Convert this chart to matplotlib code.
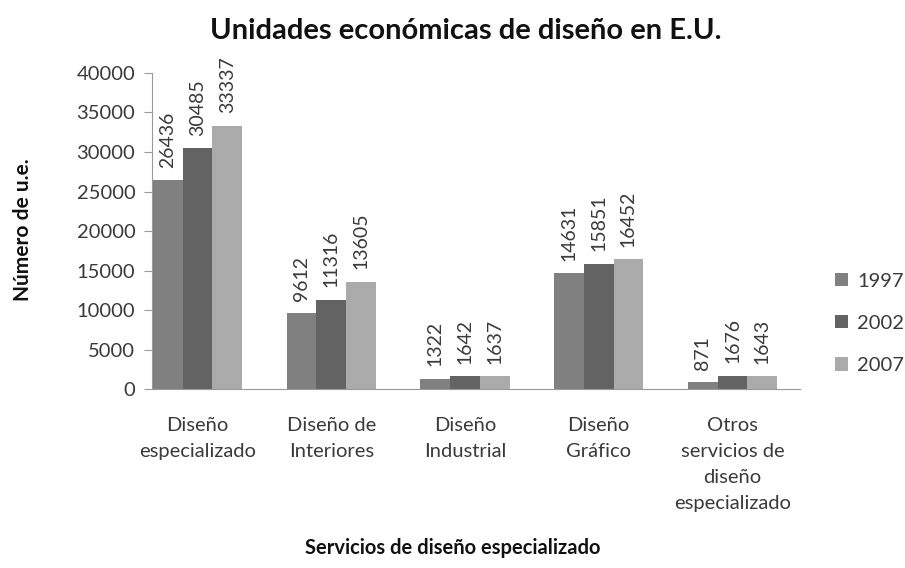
import matplotlib
matplotlib.use("Agg")
import matplotlib.pyplot as plt
import numpy as np

plt.rcParams["font.family"] = ["Lato", "DejaVu Sans"]

CATEGORIES = ["Diseño\nespecializado", "Diseño de\nInteriores", "Diseño\nIndustrial",
              "Diseño\nGráfico", "Otros\nservicios de\ndiseño\nespecializado"]
YEARS = ["1997", "2002", "2007"]
V1997 = [26436, 9612, 1322, 14631, 871]
V2002 = [30485, 11316, 1642, 15851, 1676]
V2007 = [33337, 13605, 1637, 16452, 1643]
COLORS = ["#808080", "#636363", "#ababab"]
TEXT = "#3a3a3a"

fig = plt.figure(figsize=(9.05, 5.68), dpi=100)
ax = fig.add_axes([0.168, 0.315, 0.716, 0.5565])

x = np.arange(len(CATEGORIES))
w = 0.222
for i, (vals, yr, c) in enumerate(zip([V1997, V2002, V2007], YEARS, COLORS)):
    bars = ax.bar(x + (i - 1) * w, vals, w, color=c, label=yr)
    for b, v in zip(bars, vals):
        ax.annotate(str(v), (b.get_x() + b.get_width() / 2, v), xytext=(0, 9),
                    textcoords="offset points", rotation=90, ha="center", va="bottom",
                    fontsize=14, color=TEXT)

ax.set_xlim(-0.34, 4.505)
ax.set_ylim(0, 40000)
ax.set_yticks(np.arange(0, 40001, 5000))
ax.set_xticks(x)
ax.set_xticklabels(CATEGORIES, fontsize=14.5, color=TEXT, linespacing=1.65, va="top")
ax.tick_params(axis="x", length=0, pad=20)
ax.tick_params(axis="y", labelsize=14.5, labelcolor=TEXT, color="#999999", length=6, pad=6)
for s in ["top", "right"]:
    ax.spines[s].set_visible(False)
ax.spines["left"].set_color("#999999")
ax.spines["bottom"].set_color("#999999")

fig.text(0.025, 0.595, "Número de u.e.", rotation=90, ha="center", va="center",
         fontsize=15, fontweight="bold", color="#111111")
fig.text(0.5, 0.035, "Servicios de diseño especializado", ha="center", va="center",
         fontsize=14.5, fontweight="bold", color="#111111")
fig.text(0.515, 0.945, "Unidades económicas de diseño en E.U.", ha="center", va="center",
         fontsize=21, fontweight="bold", color="#111111")

fig.legend(loc="center left", bbox_to_anchor=(0.923, 0.431), frameon=False, fontsize=14.5,
           handlelength=0.65, handleheight=0.65, labelspacing=1.25, handletextpad=0.45,
           borderaxespad=0, borderpad=0, labelcolor=TEXT)

fig.savefig("out.png", dpi=100)
